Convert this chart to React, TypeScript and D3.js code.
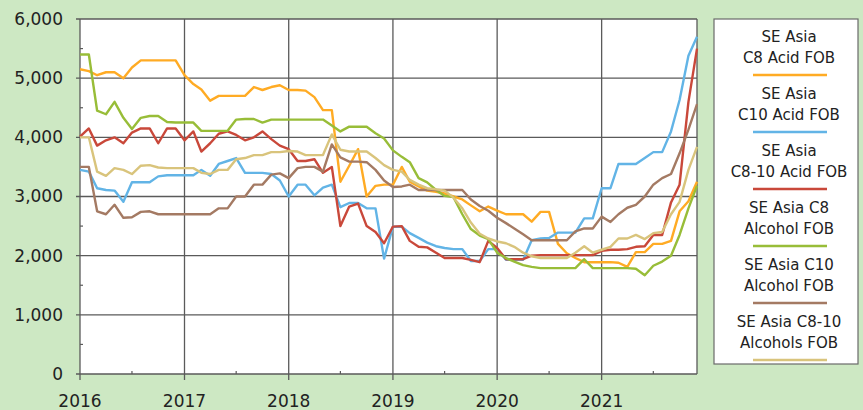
import React from "react";
import * as d3 from "d3";

// monthly points, Jan 2016 .. Dec 2021
const months = d3.timeMonth.range(new Date(2016, 0, 1), new Date(2022, 0, 1));
const yearTicks = [2016, 2017, 2018, 2019, 2020, 2021];
const yTicks = [0, 1000, 2000, 3000, 4000, 5000, 6000];

const c8Acid = [
  5150, 5120, 5050, 5100, 5100, 5000, 5180, 5300, 5300, 5300, 5300, 5300,
  5050, 4900, 4810, 4620, 4700, 4700, 4700, 4700, 4850, 4800, 4850, 4880,
  4800, 4800, 4790, 4680, 4460, 4460, 3250, 3520, 3800, 3000, 3180, 3200,
  3200, 3500, 3250, 3170, 3100, 3080, 3050, 3000, 2950, 2850, 2750, 2830,
  2760, 2700, 2700, 2700, 2575, 2740, 2740, 2200, 2040, 1960, 1890, 1890,
  1890, 1890, 1880, 1810, 2060, 2060, 2200, 2200, 2250, 2750, 2920, 3250,
];
const c10Acid = [
  3450, 3420, 3140, 3110, 3100, 2910, 3240, 3240, 3240, 3340, 3360, 3360,
  3360, 3360, 3450, 3350, 3550, 3600, 3650, 3400, 3400, 3400, 3380, 3270,
  3000, 3200, 3200, 3020, 3150, 3200, 2820, 2890, 2890, 2800, 2800, 1950,
  2490, 2490, 2380, 2300, 2220, 2160, 2130, 2110, 2110, 1910, 1910, 2110,
  2110, 1930, 1930, 1930, 2260, 2290, 2300, 2390, 2390, 2390, 2630, 2630,
  3140, 3140, 3550, 3550, 3550, 3650, 3750, 3750, 4100, 4630, 5380, 5700,
];
const c810Acid = [
  4010, 4150, 3860, 3950, 4000, 3900, 4080, 4150, 4150, 3900, 4150, 4150,
  3950, 4100, 3760, 3900, 4060, 4100, 4040, 3950, 4000, 4100, 3970, 3860,
  3800, 3600, 3600, 3630, 3400, 3500, 2500, 2830, 2880, 2500, 2400, 2210,
  2490, 2500, 2250, 2150, 2140, 2050, 1960, 1960, 1960, 1930, 1890, 2250,
  2130, 1940, 1940, 1940, 2000, 2010, 2010, 2010, 2010, 2010, 2010, 2010,
  2080, 2100, 2100, 2110, 2150, 2160, 2350, 2350, 2900, 3200, 4600, 5500,
];
const c8Alcohol = [
  5400, 5400, 4450, 4390, 4600, 4330, 4140, 4330, 4360, 4360, 4260, 4250,
  4250, 4250, 4110, 4110, 4110, 4110, 4300, 4310, 4310, 4250, 4300, 4300,
  4300, 4300, 4300, 4300, 4300, 4200, 4100, 4180, 4180, 4180, 4070, 3980,
  3780, 3670, 3580, 3310, 3240, 3110, 3010, 2990, 2700, 2450, 2340, 2280,
  2050, 1960, 1900, 1840, 1810, 1790, 1790, 1790, 1790, 1790, 1940, 1790,
  1790, 1790, 1790, 1790, 1780, 1670, 1830, 1900, 2000, 2350, 2800, 3180,
];
const c10Alcohol = [
  3500, 3500, 2750, 2700, 2860, 2640, 2650, 2740, 2750, 2700, 2700, 2700,
  2700, 2700, 2700, 2700, 2800, 2800, 3000, 3000, 3200, 3200, 3370, 3390,
  3310, 3480, 3500, 3500, 3420, 3880, 3660, 3590, 3590, 3580, 3450, 3270,
  3160, 3170, 3200, 3110, 3110, 3110, 3110, 3110, 3110, 2950, 2840, 2760,
  2640, 2550, 2460, 2360, 2260, 2260, 2260, 2260, 2260, 2410, 2460, 2460,
  2660, 2570, 2700, 2810, 2860, 3000, 3200, 3310, 3380, 3730, 4130, 4560,
];
const c810Alcohols = [
  4000, 4000, 3420, 3350, 3480, 3450, 3380, 3520, 3530, 3490, 3480, 3480,
  3480, 3480, 3400, 3380, 3450, 3450, 3630, 3650, 3700, 3700, 3750, 3750,
  3770, 3760, 3700, 3700, 3700, 4050, 3790, 3760, 3760, 3760, 3650, 3530,
  3450, 3420, 3280, 3200, 3140, 3120, 3100, 2980, 2800, 2560, 2370, 2290,
  2240, 2210, 2150, 2050, 1990, 1960, 1960, 1960, 1960, 2050, 2160, 2050,
  2100, 2150, 2290, 2290, 2350, 2280, 2380, 2400, 2700, 2910, 3450, 3840,
];

const seriesNames = [
  ["SE Asia", "C8 Acid FOB"],
  ["SE Asia", "C10 Acid FOB"],
  ["SE Asia", "C8-10 Acid FOB"],
  ["SE Asia C8", "Alcohol FOB"],
  ["SE Asia C10", "Alcohol FOB"],
  ["SE Asia C8-10", "Alcohols FOB"],
];
const seriesValues = [c8Acid, c10Acid, c810Acid, c8Alcohol, c10Alcohol, c810Alcohols];
const colors = ["#ffab24", "#62b4e6", "#c9483a", "#98bd38", "#a47a63", "#d9c47c"];

const W = 863;
const H = 410;
const left = 80;
const right = 697;
const top = 19;
const bottom = 374;
const font = "'DejaVu Sans', sans-serif";

export default function App() {
  const x = d3
    .scaleTime()
    .domain([new Date(2016, 0, 1), new Date(2021, 11, 1)])
    .range([left, right]);
  const y = d3.scaleLinear().domain([0, 6000]).range([bottom, top]);

  const line = d3
    .line<number>()
    .x((_, i) => x(months[i]))
    .y((d) => y(d));

  const minorY = d3.range(500, 6000, 1000);
  const midYears = yearTicks.map((yr) => new Date(yr, 6, 1));
  const grid = "#5a5a5a";

  return (
    <svg
      width={W}
      height={H}
      style={{ position: "absolute", left: 0, top: 0, display: "block" }}
      fontFamily={font}
    >
      <rect x={0} y={0} width={W} height={H} fill="#cde8c3" />
      <rect x={left} y={top} width={right - left} height={bottom - top} fill="#fff" />

      {/* grid */}
      {yTicks.map((t) => (
        <line key={"gy" + t} x1={left - 4} x2={right} y1={y(t)} y2={y(t)} stroke={grid} strokeWidth={1.3} />
      ))}
      {yearTicks.map((yr) => {
        const xx = x(new Date(yr, 0, 1));
        return <line key={"gx" + yr} x1={xx} x2={xx} y1={top} y2={bottom + 6} stroke={grid} strokeWidth={1.3} />;
      })}
      <line x1={right} x2={right} y1={top} y2={bottom} stroke={grid} strokeWidth={1.3} />
      {minorY.map((t) => (
        <line key={"my" + t} x1={left} x2={left + 3} y1={y(t)} y2={y(t)} stroke={grid} strokeWidth={1.2} />
      ))}
      {midYears.map((d, i) => (
        <line key={"mx" + i} x1={x(d)} x2={x(d)} y1={bottom} y2={bottom - 3} stroke={grid} strokeWidth={1.2} />
      ))}

      {/* series */}
      {seriesValues.map((vals, i) => (
        <path
          key={"s" + i}
          d={line(vals) || ""}
          fill="none"
          stroke={colors[i]}
          strokeWidth={2.4}
          strokeLinejoin="round"
        />
      ))}

      {/* tick labels */}
      {yTicks.map((t) => (
        <text key={"ly" + t} x={63} y={y(t)} dy="0.35em" textAnchor="end" fontSize={17} fill="#222">
          {d3.format(",")(t)}
        </text>
      ))}
      {yearTicks.map((yr) => (
        <text key={"lx" + yr} x={x(new Date(yr, 0, 1))} y={407} textAnchor="middle" fontSize={17} fill="#222">
          {yr}
        </text>
      ))}

      {/* legend */}
      <rect x={714} y={19} width={144} height={345} fill="#fff" stroke="#6a6a6a" strokeWidth={1.2} />
      {seriesNames.map((nm, i) => {
        const y0 = 37 + i * 57;
        return (
          <g key={"lg" + i}>
            <text x={789} y={y0} dy="0.35em" textAnchor="middle" fontSize={15} fill="#222">
              {nm[0]}
            </text>
            <text x={789} y={y0 + 21} dy="0.35em" textAnchor="middle" fontSize={15} fill="#222">
              {nm[1]}
            </text>
            <line x1={753} x2={827} y1={y0 + 38} y2={y0 + 38} stroke={colors[i]} strokeWidth={2.4} />
          </g>
        );
      })}
    </svg>
  );
}
